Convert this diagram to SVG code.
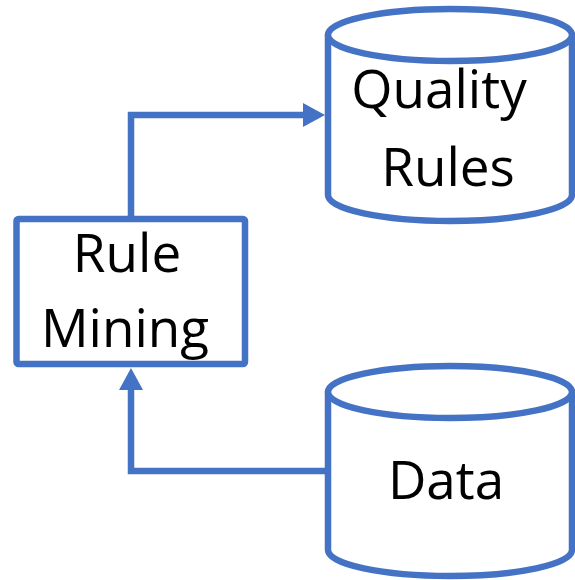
<svg xmlns="http://www.w3.org/2000/svg" width="575" height="580" viewBox="0 0 575 580">
  <style>
    .shape { fill: #ffffff; stroke: #4472C4; stroke-width: 6.5; stroke-linejoin: round; }
    .wire { fill: none; stroke: #4472C4; stroke-width: 6.5; stroke-linejoin: miter; }
    .label { font-family: "Open Sans", "Liberation Sans", sans-serif; font-size: 53px; fill: #000000; text-anchor: middle; }
  </style>
  <defs>
    <!-- arrowhead starts where the wire ends and points 22px further on -->
    <marker id="arrow" markerUnits="userSpaceOnUse" markerWidth="24" markerHeight="26" refX="0" refY="12" orient="auto" overflow="visible">
      <path d="M0,0 L22,12 L0,24 Z" fill="#4472C4"/>
    </marker>
  </defs>

  <rect width="575" height="580" fill="#ffffff"/>

  <!-- connectors -->
  <g id="connectors">
    <path class="wire" d="M131,219 L131,115 L303,115" marker-end="url(#arrow)"/>
    <path class="wire" d="M328,471 L131,471 L131,390" marker-end="url(#arrow)"/>
  </g>

  <!-- quality rules store -->
  <g id="quality-rules">
    <path class="shape" d="M328,35 L328,195 A122,26 0 0 0 572,195 L572,35 Z"/>
    <ellipse class="shape" cx="450" cy="35" rx="122" ry="26"/>
    <text class="label" x="439" y="108">Quality</text>
    <text class="label" x="448" y="186">Rules</text>
  </g>

  <!-- rule mining process -->
  <g id="rule-mining">
    <rect class="shape" x="16.5" y="219" width="228.5" height="145" rx="2"/>
    <text class="label" x="127" y="272">Rule</text>
    <text class="label" x="125" y="347">Mining</text>
  </g>

  <!-- data store -->
  <g id="data">
    <path class="shape" d="M328,392 L328,550 A122,26 0 0 0 572,550 L572,392 Z"/>
    <ellipse class="shape" cx="450" cy="392" rx="122" ry="26"/>
    <text class="label" x="446" y="499">Data</text>
  </g>
</svg>
